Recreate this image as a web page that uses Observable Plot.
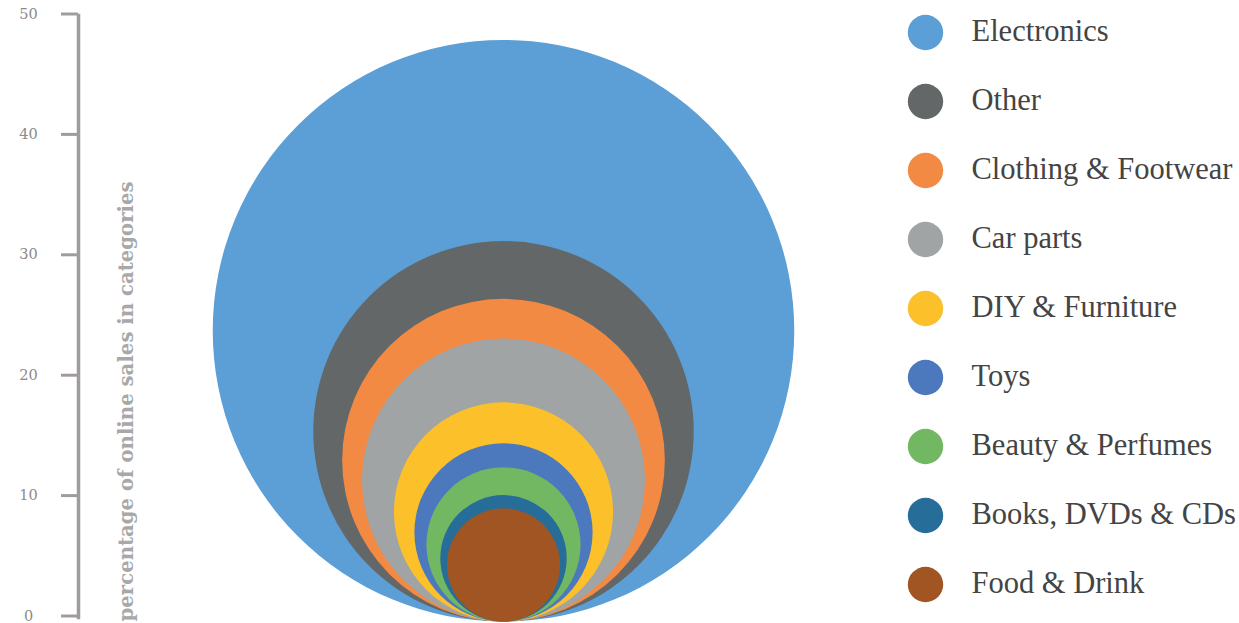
<!DOCTYPE html>
<html>
<head>
<meta charset="utf-8">
<script src="https://cdn.jsdelivr.net/npm/d3@7"></script>
<script src="https://cdn.jsdelivr.net/npm/@observablehq/plot@0.6"></script>
<style>
  html, body { margin: 0; padding: 0; background: #fff; }
  #wrap { position: relative; width: 1239px; height: 623px; overflow: hidden; }
  #legend { position: absolute; left: 890px; top: 0; }
  #main { position: absolute; left: 0; top: 0; }
</style>
</head>
<body>
<div id="wrap"><div id="main"></div><div id="legend"></div></div>
<script>
const categories = ["Electronics", "Other", "Clothing & Footwear", "Car parts", "DIY & Furniture", "Toys", "Beauty & Perfumes", "Books, DVDs & CDs", "Food & Drink"];
const shares = [48.3, 31.6, 26.8, 23.5, 18.2, 14.8, 12.8, 10.5, 9.4];
const colors = ["#5b9fd6", "#636768", "#f28a43", "#a0a4a5", "#fcc12a", "#4c79bd", "#72b862", "#276d99", "#a05522"];
const yTicks = [0, 10, 20, 30, 40, 50];
const yLabel = "percentage of online sales in categories";
const group = "all";

const data = categories.map((c, i) => ({category: c, value: shares[i], group}));

const pxPerUnit = (623 - 15 - 6) / 50;

const main = Plot.plot({
  width: 927,
  height: 623,
  marginLeft: 78,
  marginRight: 0,
  marginTop: 15,
  marginBottom: 6,
  style: {background: "transparent", overflow: "visible"},
  x: {type: "point", domain: [group], axis: null},
  y: {domain: [0, 50], axis: null},
  r: {type: "linear", domain: [0, 50], range: [0, 50 * pxPerUnit / 2]},
  color: {domain: categories, range: colors},
  marks: [
    Plot.dot(data, {x: "group", y: d => d.value / 2, r: "value", fill: "category", dy: 4, sort: {channel: "r", order: "descending"}}),
    Plot.axisY({ticks: yTicks, tickSize: 17, tickPadding: 33, textAnchor: "middle", stroke: "#a09c9c", strokeWidth: 3, fill: "#8a8a8a", fontSize: 14.5, fontFamily: "DejaVu Serif", label: null, tickFormat: d => d, dy: -1.5}),
    Plot.frame({anchor: "left", stroke: "#a09c9c", strokeWidth: 3.5}),
    Plot.text([yLabel], {text: d => d, frameAnchor: "bottom-left", rotate: -90, textAnchor: "start", lineAnchor: "middle", dx: 48, dy: 4, fill: "#a8a8a8", fontWeight: "bold", fontSize: 19.7, fontFamily: "DejaVu Serif"})
  ]
});
document.getElementById("main").appendChild(main);

const legend = Plot.plot({
  width: 349,
  height: 623,
  margin: 0,
  style: {background: "transparent", overflow: "visible"},
  y: {type: "point", domain: categories, range: [31, 585], padding: 0, axis: null},
  color: {domain: categories, range: colors},
  marks: [
    Plot.dot(categories, {y: d => d, fill: d => d, r: 17.7, frameAnchor: "left", dx: 35}),
    Plot.text(categories, {y: d => d, text: d => d, frameAnchor: "left", dx: 81, dy: -1, textAnchor: "start", lineAnchor: "middle", fontSize: 30.5, fontFamily: "Liberation Serif", fill: "#444"})
  ]
});
document.getElementById("legend").appendChild(legend);
</script>
</body>
</html>
